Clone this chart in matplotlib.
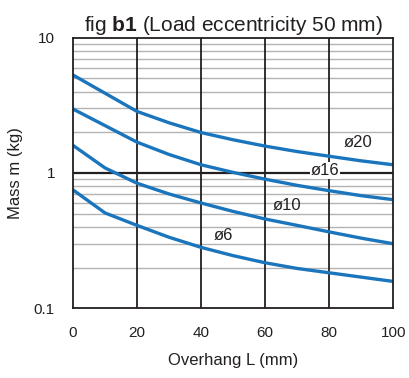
import matplotlib
matplotlib.use("Agg")
import matplotlib.pyplot as plt
from matplotlib.ticker import FixedLocator, NullFormatter, NullLocator

plt.rcParams["font.family"] = ["Liberation Sans", "DejaVu Sans"]
plt.rcParams["mathtext.fontset"] = "custom"
plt.rcParams["mathtext.rm"] = "Liberation Sans"
plt.rcParams["mathtext.bf"] = "Liberation Sans:bold"

# Overhang L (mm) sample points
overhang = [0, 20, 30, 40, 50, 60, 70, 80, 90, 100]
overhang_kink = [0, 10, 20, 30, 40, 50, 60, 70, 80, 90, 100]

# Mass m (kg) per bore size
mass_d20 = [5.3, 2.85, 2.35, 1.99, 1.76, 1.58, 1.44, 1.33, 1.23, 1.15]
mass_d16 = [2.97, 1.69, 1.37, 1.15, 1.01, 0.90, 0.81, 0.74, 0.68, 0.635]
mass_d10 = [1.6, 1.09, 0.84, 0.70, 0.60, 0.52, 0.457, 0.41, 0.367, 0.33, 0.30]
mass_d6 = [0.75, 0.507, 0.41, 0.335, 0.282, 0.245, 0.217, 0.197, 0.183, 0.17, 0.158]

x_ticks = [0, 20, 40, 60, 80, 100]
y_ticks = [0.1, 1, 10]
y_tick_labels = ["0.1", "1", "10"]

BLUE = "#1a75bc"
DARK = "#231f20"

fig = plt.figure(figsize=(4.10, 3.78), dpi=100)
ax = fig.add_axes([0.178, 0.1844, 0.781, 0.7159])

ax.set_yscale("log")
ax.set_xlim(0, 100)
ax.set_ylim(0.1, 10)

# minor horizontal grid (2..9 per decade)
minor_vals = [m * d for d in (0.1, 1) for m in range(2, 10)]
for v in minor_vals:
    ax.axhline(v, color="#b3b3b3", lw=1.0, zorder=1)
ax.axhline(1, color=DARK, lw=1.6, zorder=2)
for xv in x_ticks[1:-1]:
    ax.axvline(xv, color=DARK, lw=1.3, zorder=2)

ax.plot(overhang, mass_d20, color=BLUE, lw=2.4, zorder=3, solid_capstyle="butt")
ax.plot(overhang, mass_d16, color=BLUE, lw=2.4, zorder=3, solid_capstyle="butt")
ax.plot(overhang_kink, mass_d10, color=BLUE, lw=2.4, zorder=3, solid_capstyle="butt")
ax.plot(overhang_kink, mass_d6, color=BLUE, lw=2.4, zorder=3, solid_capstyle="butt")

label_kw = dict(fontsize=12, color=DARK, ha="center", va="center", zorder=4)
ax.text(89, 1.68, "ø20", **label_kw)
ax.text(78.8, 1.045, "ø16", bbox=dict(facecolor="white", edgecolor="none", pad=0.5), **label_kw)
ax.text(66.8, 0.576, "ø10", **label_kw)
ax.text(46.9, 0.345, "ø6", **label_kw)

ax.xaxis.set_major_locator(FixedLocator(x_ticks))
ax.yaxis.set_major_locator(FixedLocator(y_ticks))
ax.yaxis.set_minor_locator(NullLocator())
ax.yaxis.set_minor_formatter(NullFormatter())
ax.set_yticklabels(y_tick_labels)
ax.tick_params(axis="both", length=0, labelsize=11, colors=DARK)
ax.tick_params(axis="x", pad=13)
ax.tick_params(axis="y", pad=13)

for s in ax.spines.values():
    s.set_color(DARK)
    s.set_linewidth(1.3)
    s.set_zorder(5)

ax.set_xlabel("Overhang L (mm)", fontsize=12, color=DARK, labelpad=9)
ax.set_ylabel("Mass m (kg)", fontsize=12, color=DARK, labelpad=8)
ax.set_title(r"fig $\mathbf{b1}$ (Load eccentricity 50 mm)", fontsize=15, color=DARK, pad=5)

fig.savefig("out.png", dpi=100)
